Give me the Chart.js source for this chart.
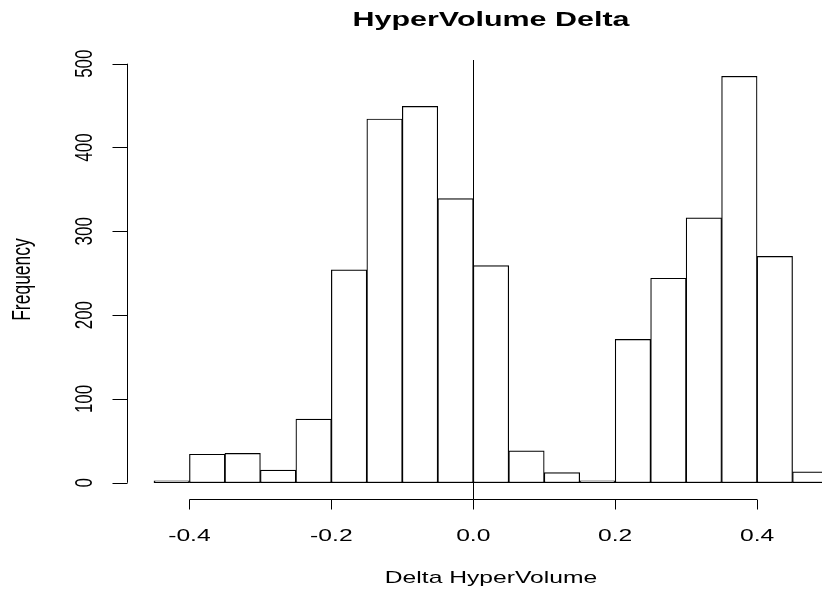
<!DOCTYPE html>
<html>
<head>
<meta charset="utf-8">
<title>HyperVolume Delta</title>
<script src="https://cdn.jsdelivr.net/npm/chart.js@4"></script>
<style>
  html, body { margin: 0; padding: 0; background: #fff; overflow: hidden; }
  canvas { display: block; }
</style>
</head>
<body>
<canvas id="histChart" width="855" height="589"></canvas>
<script>
// histogram bins (centre of each 0.05 wide bin) and counts
const binCenters = [-0.425, -0.375, -0.325, -0.275, -0.225, -0.175, -0.125, -0.075, -0.025,
                    0.025, 0.075, 0.125, 0.175, 0.225, 0.275, 0.325, 0.375, 0.425, 0.475];
const frequency = [2, 34, 35, 15, 76, 254, 434, 449, 339,
                   259, 38, 12, 1, 171, 244, 316, 485, 270, 13];

const xTicks = [-0.4, -0.2, 0.0, 0.2, 0.4];
const xTickLabels = ["-0.4", "-0.2", "0.0", "0.2", "0.4"];
const yTicks = [0, 100, 200, 300, 400, 500];
const yTickLabels = ["0", "100", "200", "300", "400", "500"];

const mainTitle = "HyperVolume Delta";
const xTitle = "Delta HyperVolume";
const yTitle = "Frequency";

// the reference text looks stretched sideways, so draw text with a x scale
const stretch = 1.45;
const fontFamily = "'Liberation Sans', Arial, Helvetica, sans-serif";

function stretchedText(ctx, text, x, y, rotate) {
    ctx.save();
    ctx.translate(x, y);
    ctx.scale(stretch, 1);
    if (rotate) {
        ctx.rotate(-Math.PI / 2);
    }
    ctx.fillText(text, 0, 0);
    ctx.restore();
}

// draws R style axes, the v=0 line and all the labels
const baseAxes = {
    id: "baseAxes",
    afterDatasetsDraw(chart) {
        const ctx = chart.ctx;
        const area = chart.chartArea;
        const xs = chart.scales.x;
        const ys = chart.scales.y;

        ctx.save();
        ctx.strokeStyle = "#000";
        ctx.lineWidth = 1;

        // abline at zero
        const zx = Math.round(xs.getPixelForValue(0)) + 0.5;
        ctx.beginPath();
        ctx.moveTo(zx, area.top);
        ctx.lineTo(zx, area.bottom);
        ctx.stroke();

        // x axis
        const axY = Math.round(area.bottom) + 0.5;
        ctx.beginPath();
        ctx.moveTo(xs.getPixelForValue(xTicks[0]), axY);
        ctx.lineTo(xs.getPixelForValue(xTicks[xTicks.length - 1]), axY);
        xTicks.forEach(function (t) {
            const px = Math.round(xs.getPixelForValue(t)) + 0.5;
            ctx.moveTo(px, axY);
            ctx.lineTo(px, axY + 10);
        });
        ctx.stroke();

        // y axis
        const axX = Math.round(area.left) + 0.5;
        ctx.beginPath();
        ctx.moveTo(axX, ys.getPixelForValue(yTicks[0]));
        ctx.lineTo(axX, ys.getPixelForValue(yTicks[yTicks.length - 1]));
        yTicks.forEach(function (t) {
            const py = Math.round(ys.getPixelForValue(t)) + 0.5;
            ctx.moveTo(axX, py);
            ctx.lineTo(axX - 15, py);
        });
        ctx.stroke();

        // labels
        ctx.fillStyle = "#000";
        ctx.textAlign = "center";
        ctx.textBaseline = "alphabetic";
        ctx.font = "17px " + fontFamily;
        xTicks.forEach(function (t, i) {
            stretchedText(ctx, xTickLabels[i], xs.getPixelForValue(t), 541, false);
        });
        yTicks.forEach(function (t, i) {
            stretchedText(ctx, yTickLabels[i], 92, ys.getPixelForValue(t), true);
        });

        const midX = (area.left + area.right) / 2;
        const midY = (area.top + area.bottom) / 2;
        stretchedText(ctx, xTitle, midX, 583, false);
        ctx.font = "17.5px " + fontFamily;
        stretchedText(ctx, yTitle, 30, midY, true);

        ctx.font = "bold 21px " + fontFamily;
        stretchedText(ctx, mainTitle, midX, 26, false);
        ctx.restore();
    }
};

function start() {
    const ctx = document.getElementById("histChart").getContext("2d");
    const points = binCenters.map(function (c, i) {
        return { x: c, y: frequency[i] };
    });

    new Chart(ctx, {
        type: "bar",
        data: {
            datasets: [{
                data: points,
                backgroundColor: "#ffffff",
                borderColor: "#000000",
                borderWidth: 1.2,
                borderSkipped: false,
                minBarLength: 2,
                barPercentage: 1,
                categoryPercentage: 1
            }]
        },
        options: {
            responsive: false,
            animation: false,
            events: [],
            layout: {
                padding: { left: 127, right: 0, top: 60, bottom: 90 }
            },
            plugins: {
                legend: { display: false },
                title: { display: false },
                tooltip: { enabled: false }
            },
            scales: {
                x: {
                    type: "linear",
                    display: false,
                    offset: false,
                    min: -0.488,
                    max: 0.538
                },
                y: {
                    type: "linear",
                    display: false,
                    min: -19.4,
                    max: 504.4
                }
            }
        },
        plugins: [baseAxes]
    });
}

window.addEventListener("load", start, false);
</script>
</body>
</html>
